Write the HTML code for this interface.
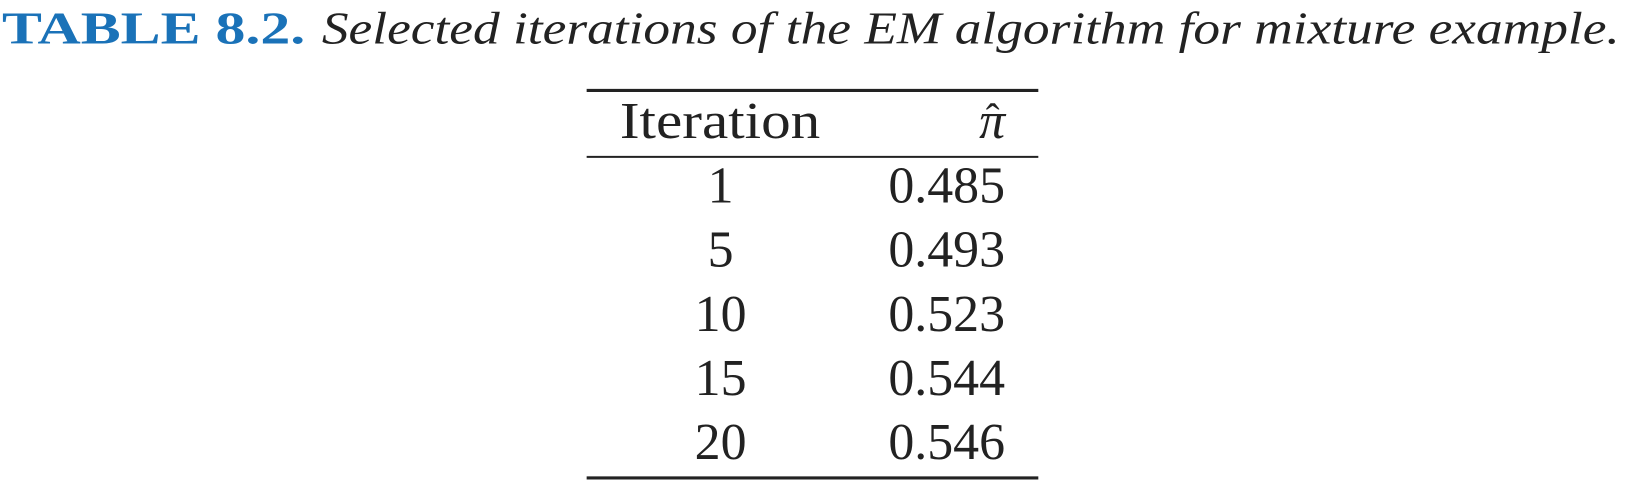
<!DOCTYPE html>
<html>
<head>
<meta charset="utf-8">
<style>
html,body{margin:0;padding:0;background:#fff;}
svg{display:block;}
text{font-family:"Liberation Serif",serif;fill:#222;}
</style>
</head>
<body>
<svg width="1626" height="481" viewBox="0 0 1566 463" preserveAspectRatio="none">
  <g>
    <text x="2" y="42" font-size="44" font-weight="bold" fill="#1a72b8" style="fill:#1a72b8" textLength="292" lengthAdjust="spacingAndGlyphs">TABLE 8.2.</text>
    <text x="310" y="42" font-size="44" font-style="italic" textLength="1250" lengthAdjust="spacingAndGlyphs">Selected iterations of the EM algorithm for mixture example.</text>
  </g>
  <line x1="565" y1="87" x2="1000" y2="87" stroke="#222" stroke-width="3"/>
  <line x1="565" y1="151" x2="1000" y2="151" stroke="#222" stroke-width="2"/>
  <line x1="565" y1="460" x2="1000" y2="460" stroke="#222" stroke-width="3"/>
  <g>
    <text x="597" y="133" font-size="50" textLength="193" lengthAdjust="spacingAndGlyphs">Iteration</text>
    <text x="968" y="133" font-size="50" font-style="italic" text-anchor="end">π</text>
    <text x="956" y="127" font-size="40" text-anchor="middle">ˆ</text>
  </g>
  <g id="rows"></g>
</svg>
<script>
const iterations = ["1","5","10","15","20"];
const piHat = ["0.485","0.493","0.523","0.544","0.546"];
const NS = "http://www.w3.org/2000/svg";
const g = document.getElementById('rows');
iterations.forEach((it, i) => {
  const y = 195 + i * 61.7;
  const row = document.createElementNS(NS, 'g');
  
  
  const t1 = document.createElementNS(NS, 'text');
  t1.setAttribute('x', 694); t1.setAttribute('y', y);
  t1.setAttribute('font-size', 50); t1.setAttribute('text-anchor', 'middle');
  t1.textContent = it;
  
  
  const t2 = document.createElementNS(NS, 'text');
  t2.setAttribute('x', 968); t2.setAttribute('y', y);
  t2.setAttribute('font-size', 50); t2.setAttribute('text-anchor', 'end');
  t2.textContent = piHat[i];
  
  
  row.appendChild(t1); row.appendChild(t2);
  g.appendChild(row);
});
</script>
</body>
</html>
